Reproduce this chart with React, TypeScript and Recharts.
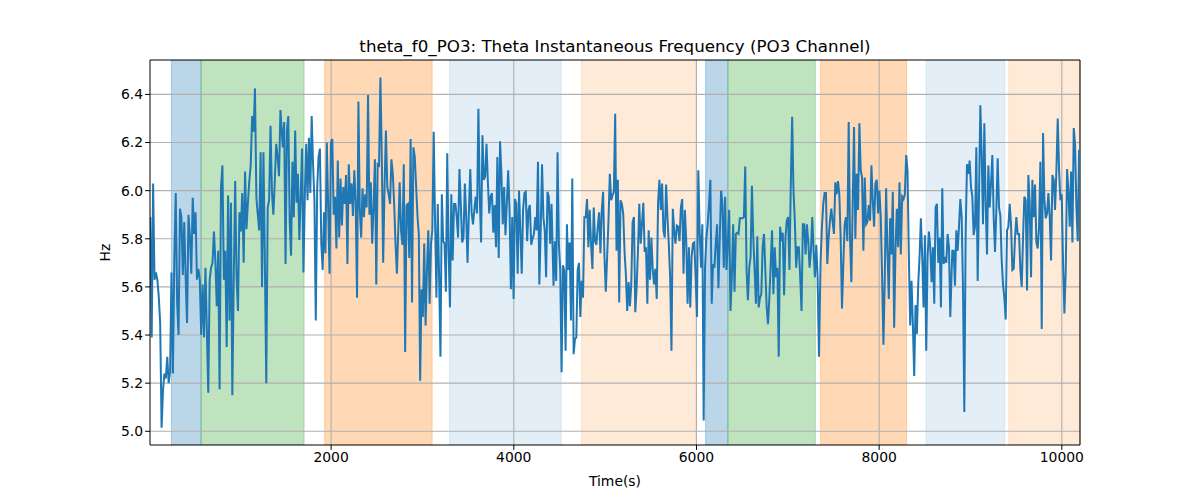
import React from 'react';
import {
  LineChart,
  Line,
  XAxis,
  YAxis,
  ReferenceArea,
  ReferenceLine
} from 'recharts';

// theta instantaneous frequency, PO3 channel in 7 stretches
const segStart = [20, 1471, 2960, 4435, 5888, 7359, 8801];
const segEnd = [1445, 2946, 4413, 5873, 7341, 8779, 10189];

const hzSeg1 = [
  5.89, 5.39, 6.03, 5.63, 5.66, 5.63, 5.56, 5.45, 5.015, 5.17,
  5.24, 5.22, 5.31, 5.2, 5.25, 5.66, 5.24, 5.72, 5.99, 5.53,
  5.4, 5.925, 5.89, 5.65, 5.87, 5.64, 5.45, 5.9, 5.81, 5.655,
  5.97, 5.82, 5.91, 5.63, 5.675, 5.63, 5.4, 5.61, 5.39, 5.68,
  5.42, 5.16, 5.63, 5.68, 5.7, 5.83, 5.71, 5.52, 5.75, 5.175,
  6.015, 6.105, 5.63, 5.75, 5.35, 5.98, 5.46, 5.95, 5.15, 5.63,
  6.04, 5.64, 5.5, 5.91, 5.83, 5.99, 5.7, 6.08, 5.84, 5.95,
  6.04, 6.105, 6.31, 6.245, 6.425, 5.97, 5.9, 5.835, 6.16, 5.6,
  6.16, 5.7, 5.2, 5.93, 5.96, 6.27, 5.995, 5.9, 6.04, 6.195,
  6.14, 6.06, 6.335
];
const hzSeg2 = [
  6.18, 6.285, 5.695, 6.25, 6.31, 5.875, 5.73, 6.12, 5.89, 6.25,
  5.95, 6.07, 5.795, 5.975, 6.175, 5.66, 5.975, 6.195, 5.96, 6.22,
  5.99, 6.31, 6.11, 5.96, 5.46, 6.01, 6.14, 6.175, 5.78, 5.67,
  5.91, 5.74, 6.2, 5.93, 5.655, 6.2, 6.215, 5.9, 5.975, 5.76,
  6.125, 5.805, 6.05, 5.855, 6.015, 5.945, 6.065, 5.695, 6.11, 5.945,
  6.03, 5.895, 6.085, 5.95, 5.555, 6.37, 5.92, 5.805, 6.01, 5.89,
  5.985, 5.93, 6.397, 5.9, 6.035, 5.78, 5.93, 6.13, 5.61, 6.11,
  6.105, 6.47, 6.14, 5.7, 6.015, 6.25, 6.015, 5.985, 5.945, 6.13,
  6.07, 5.945, 5.78, 5.655, 5.835, 6.035, 5.835, 5.775, 6.11, 5.33,
  5.94, 5.945, 5.72, 6.215, 5.535, 6.18, 6.14, 6.015, 5.89
];
const hzSeg3 = [
  5.82, 5.21, 5.59, 5.475, 5.78, 5.44, 5.67, 5.835, 5.53, 5.78,
  5.835, 6.245, 5.875, 5.555, 5.945, 5.64, 5.31, 5.985, 5.79, 5.78,
  5.58, 6.155, 5.75, 5.515, 5.985, 5.71, 5.945, 5.945, 5.89, 5.805,
  6.09, 5.945, 5.785, 5.805, 6.03, 5.89, 5.7, 5.92, 6.09, 5.91,
  5.86, 5.92, 5.975, 5.905, 6.34, 5.975, 5.785, 6.23, 6.045, 6.06,
  6.195, 6.035, 5.905, 5.975, 5.99, 5.825, 5.94, 5.765, 6.14, 5.72,
  6.205, 6.07, 5.86, 6.015, 5.815, 5.945, 6.085, 5.92, 5.59, 5.89,
  5.55, 5.965, 5.945, 5.655, 6.0, 5.835, 5.655, 5.92, 5.99, 5.995,
  5.79, 5.92, 5.94, 5.775, 5.8, 5.82, 5.89, 5.835, 6.12, 5.61,
  5.835, 6.11, 5.89, 5.835, 5.64, 5.995, 5.975, 5.78, 5.945
];
const hzSeg4 = [
  5.605, 5.79, 5.625, 6.16, 5.78, 5.67, 5.245, 5.69, 5.67, 5.335,
  5.86, 5.67, 5.785, 5.46, 6.05, 5.32, 5.385, 5.39, 5.67, 5.7,
  5.475, 5.625, 5.555, 5.89, 5.89, 5.965, 5.765, 5.92, 5.775, 5.675,
  5.93, 5.79, 5.775, 5.85, 5.91, 5.74, 5.92, 5.995, 5.725, 5.58,
  5.725, 5.875, 6.07, 5.96, 5.98, 5.995, 6.32, 5.75, 6.045, 5.535,
  5.96, 5.945, 5.905, 5.745, 5.65, 5.5, 5.62, 5.52, 5.61, 5.87,
  5.89, 5.495, 5.6, 5.75, 5.945, 5.78, 5.86, 5.95, 5.745, 5.765,
  5.53, 5.835, 5.63, 5.805, 5.675, 5.61, 5.675, 5.55, 5.95, 6.045,
  5.92, 6.03, 5.835, 5.805, 6.025, 5.89, 5.78, 5.64, 5.335, 5.925,
  5.835, 5.78, 5.855, 5.85, 5.79, 5.93, 5.965, 5.655, 5.92
];
const hzSeg5 = [
  5.79, 5.53, 5.765, 5.515, 5.725, 5.78, 5.785, 5.64, 5.475, 6.085,
  5.835, 5.68, 5.86, 5.045, 5.68, 5.805, 5.86, 5.945, 6.045, 5.53,
  5.695, 5.68, 5.78, 5.86, 5.595, 5.805, 6.0, 5.945, 5.68, 5.975,
  5.67, 5.78, 5.92, 5.5, 5.64, 5.86, 5.58, 5.82, 5.825, 5.82,
  5.885, 5.885, 5.885, 5.89, 6.1, 5.67, 5.545, 5.68, 5.725, 6.02,
  5.805, 5.67, 5.53, 5.81, 5.515, 5.555, 5.57, 5.765, 5.82, 5.67,
  5.515, 5.445, 5.555, 5.695, 5.835, 5.57, 5.765, 5.64, 5.68, 5.31,
  5.85, 5.79, 5.825, 5.565, 5.805, 5.875, 5.89, 5.67, 6.03, 6.307,
  6.0, 5.875, 5.68, 5.765, 5.765, 5.64, 5.5, 5.86, 5.86, 5.735,
  5.86, 5.79, 5.68, 5.75, 5.89, 5.75, 5.64, 5.775, 5.64, 5.31
];
const hzSeg6 = [
  5.71, 5.85, 5.945, 5.99, 5.99, 5.695, 5.805, 5.875, 5.925, 5.87,
  5.82, 6.035, 5.985, 6.04, 5.985, 5.805, 5.51, 5.695, 5.86, 5.89,
  5.79, 6.285, 5.805, 5.62, 5.945, 6.265, 5.8, 6.07, 5.92, 6.28,
  6.085, 6.055, 5.75, 6.055, 5.86, 5.87, 5.94, 5.875, 6.105, 5.96,
  5.85, 6.03, 6.045, 5.905, 6.0, 5.89, 5.64, 5.36, 5.64, 6.01,
  5.75, 5.55, 5.885, 5.735, 5.995, 5.43, 5.75, 5.925, 5.765, 6.035,
  5.735, 5.975, 5.965, 5.985, 6.148, 6.085, 5.73, 5.44, 5.625, 5.445,
  5.23, 5.525, 5.405, 5.61, 5.725, 5.885, 5.725, 5.515, 5.815, 5.335,
  5.725, 5.83, 5.765, 5.62, 5.765, 5.53, 5.93, 5.945, 5.7, 5.805,
  5.515, 6.01, 5.695, 5.725, 5.7, 5.82, 5.765, 5.475
];
const hzSeg7 = [
  5.75, 5.75, 5.605, 5.835, 5.75, 5.85, 5.965, 5.89, 5.6, 5.08,
  5.82, 6.11, 6.07, 6.125, 6.015, 5.975, 5.815, 5.85, 6.18, 5.625,
  5.975, 6.355, 6.155, 5.86, 6.28, 5.945, 5.735, 6.105, 5.93, 6.03,
  6.148, 5.89, 5.745, 5.92, 6.135, 5.93, 5.895, 5.71, 5.61, 5.555,
  5.465, 5.835, 5.85, 5.945, 5.86, 5.67, 5.675, 5.805, 5.89, 5.82,
  5.82, 5.67, 5.6, 5.805, 5.975, 5.96, 5.585, 6.065, 5.945, 5.64,
  6.045, 5.89, 6.025, 5.785, 5.76, 5.85, 6.12, 5.425, 6.24, 5.965,
  5.885, 5.905, 5.99, 5.89, 5.71, 6.065, 6.045, 5.92, 6.085, 6.3,
  6.085, 5.96, 5.985, 5.695, 5.49, 5.67, 6.09, 6.0, 5.85, 6.08,
  5.785, 6.26, 6.19, 5.93, 5.79, 6.17
];

// shaded epochs
const spanStart = [251, 576, 1930, 3296, 4741, 6100, 6344, 7359, 8513, 9419];
const spanEnd = [576, 1704, 3106, 4519, 5994, 6344, 7301, 8301, 9375, 10199];
const spanKind = ['blue', 'green', 'orange', 'paleBlue', 'paleOrange', 'blue', 'green', 'orange', 'paleBlue', 'paleOrange'];

const xTicks = [2000, 4000, 6000, 8000, 10000];
const yTicks = [5.0, 5.2, 5.4, 5.6, 5.8, 6.0, 6.2, 6.4];

const X_DOMAIN: [number, number] = [17, 10199];
const Y_DOMAIN: [number, number] = [4.943, 6.543];

const spanStyle: Record<string, { color: string; opacity: number }> = {
  blue: { color: '#1f77b4', opacity: 0.3 },
  green: { color: '#2ca02c', opacity: 0.3 },
  orange: { color: '#ff7f0e', opacity: 0.3 },
  paleBlue: { color: '#1f77b4', opacity: 0.12 },
  paleOrange: { color: '#ff7f0e', opacity: 0.16 }
};

const segments = [hzSeg1, hzSeg2, hzSeg3, hzSeg4, hzSeg5, hzSeg6, hzSeg7];
const data = segments.flatMap((vals, s) =>
  vals.map((hz, i) => ({
    t: segStart[s] + ((segEnd[s] - segStart[s]) * i) / (vals.length - 1),
    hz
  }))
);

const FONT = '"DejaVu Sans", sans-serif';
const tickStyle = { fontSize: 13.9, fill: '#000', fontFamily: FONT };
const GRID = '#b0b0b0';

const App: React.FC = () => {
  return (
    <div style={{ position: 'absolute', left: 0, top: 0, width: 1200, height: 500, background: '#fff' }}>
      <div
        style={{
          position: 'absolute',
          left: 150,
          top: 35,
          width: 930,
          textAlign: 'center',
          fontFamily: FONT,
          fontSize: 16.7,
          lineHeight: '22px',
          color: '#000'
        }}
      >
        theta_f0_PO3: Theta Instantaneous Frequency (PO3 Channel)
      </div>
      <LineChart width={1200} height={500} data={data} margin={{ top: 60, right: 120, bottom: 0, left: 0 }}>
        {spanStart.map((x1, i) => {
          const st = spanStyle[spanKind[i]];
          return (
            <ReferenceArea
              key={`span-${i}`}
              x1={x1}
              x2={spanEnd[i]}
              fill={st.color}
              fillOpacity={st.opacity}
              stroke={st.color}
              strokeOpacity={st.opacity}
              ifOverflow="hidden"
            />
          );
        })}
        {/* grid sits above the shaded spans, as in matplotlib */}
        {xTicks.map((v) => (
          <ReferenceLine key={`gx-${v}`} x={v} stroke={GRID} strokeWidth={1.1} />
        ))}
        {yTicks.map((v) => (
          <ReferenceLine key={`gy-${v}`} y={v} stroke={GRID} strokeWidth={1.1} />
        ))}
        {/* top and right spines */}
        <ReferenceLine y={Y_DOMAIN[1]} stroke="#000" strokeWidth={1.1} ifOverflow="visible" />
        <ReferenceLine x={X_DOMAIN[1]} stroke="#000" strokeWidth={1.1} ifOverflow="visible" />
        <XAxis
          dataKey="t"
          type="number"
          domain={X_DOMAIN}
          ticks={xTicks}
          allowDataOverflow
          height={55}
          tick={tickStyle}
          tickSize={4.9}
          tickMargin={2}
          stroke="#000"
          label={{
            content: (props: any) => {
              const vb = props.viewBox;
              return (
                <text x={vb.x + vb.width / 2} y={vb.y + 41} textAnchor="middle" fontSize={13.9} fontFamily={FONT} fill="#000">
                  Time(s)
                </text>
              );
            }
          }}
        />
        <YAxis
          type="number"
          domain={Y_DOMAIN}
          ticks={yTicks}
          allowDataOverflow
          width={150}
          tick={tickStyle}
          tickSize={4.9}
          tickMargin={2}
          tickFormatter={(v: number) => v.toFixed(1)}
          stroke="#000"
          label={{
            content: (props: any) => {
              const vb = props.viewBox;
              const cx = 110;
              const cy = vb.y + vb.height / 2;
              return (
                <text x={cx} y={cy} transform={`rotate(-90 ${cx} ${cy})`} textAnchor="middle" fontSize={13.9} fontFamily={FONT} fill="#000">
                  Hz
                </text>
              );
            }
          }}
        />
        <Line type="linear" dataKey="hz" stroke="#1f77b4" strokeWidth={2} dot={false} isAnimationActive={false} />
      </LineChart>
    </div>
  );
};

export default App;
